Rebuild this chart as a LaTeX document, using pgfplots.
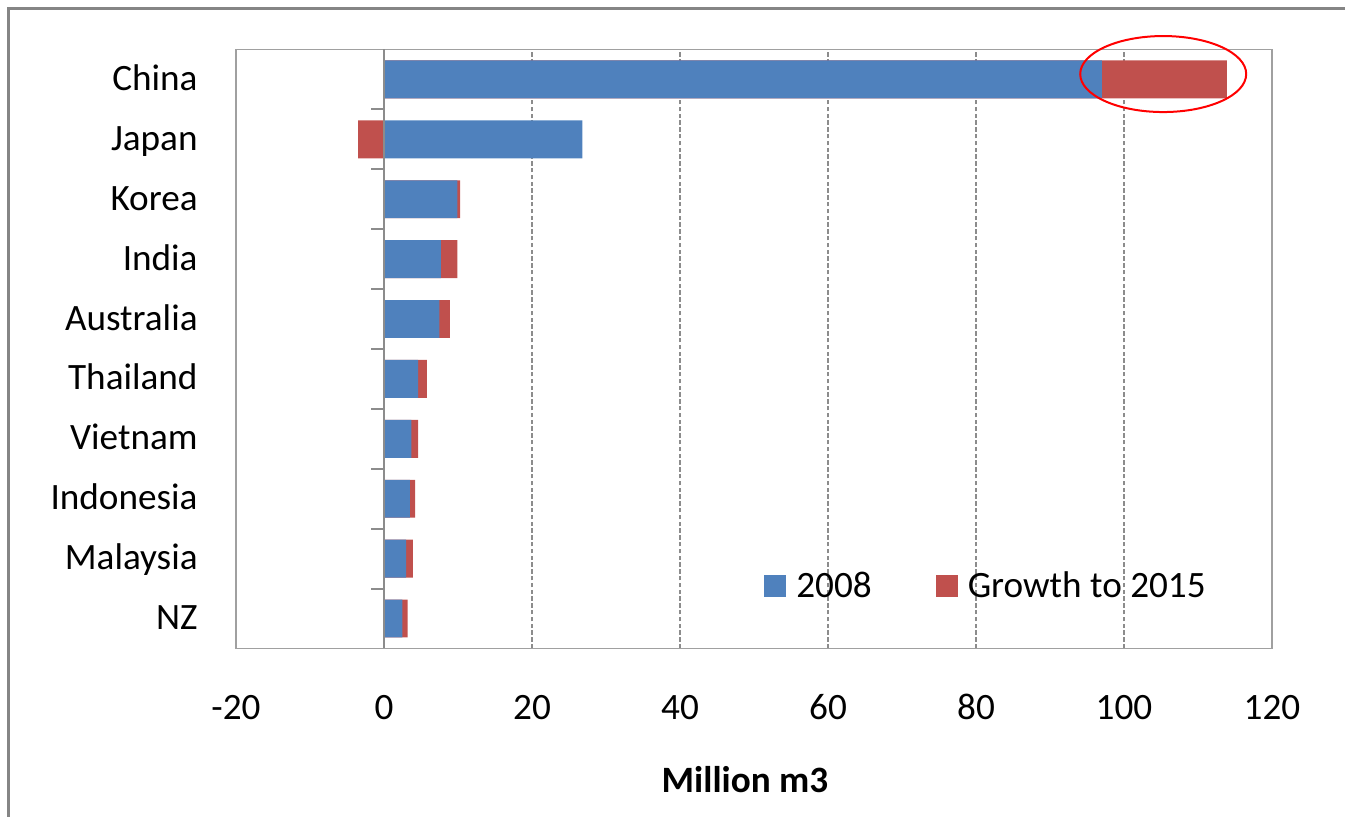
\documentclass[border=0pt]{standalone}
\usepackage{fontspec}
\setmainfont{Carlito}
\usepackage{pgfplots}
\usepackage{pgfplotstable}
\pgfplotsset{compat=1.18}

\definecolor{bluebar}{HTML}{4F81BD}
\definecolor{redbar}{HTML}{C0504D}
\definecolor{boxgray}{HTML}{A0A0A0}
\definecolor{axisgray}{HTML}{8C8C8C}
\definecolor{gridgray}{HTML}{8C8C8C}
\definecolor{framegray}{HTML}{858585}

\newcommand\chartfont{\fontsize{18.6pt}{22pt}\selectfont}

% consumption in 2008 and change to 2015, million m3 (bottom to top)
\pgfplotstableread{
country   base   growth
NZ        2.5    0.7
Malaysia  3.0    0.9
Indonesia 3.5    0.7
Vietnam   3.7    0.9
Thailand  4.6    1.2
Australia 7.5    1.4
India     7.7    2.2
Korea     9.9    0.4
Japan     26.8   -3.5
China     97.0   16.9
}\demand

\begin{document}
\begin{tikzpicture}
% page extent
\useasboundingbox (-118pt,-84.25pt) rectangle (554.5pt,324.25pt);
% outer chart frame
\draw[framegray, line width=1.5pt] (-113.5pt,-84.25pt) -- (-113.5pt,319.75pt) -- (554.5pt,319.75pt);

\begin{axis}[
  at={(0pt,0pt)}, anchor=south west,
  scale only axis,
  width=518pt, height=299.5pt,
  xmin=-20, xmax=120,
  ymin=-0.5, ymax=9.5,
  clip=false,
  axis line style={boxgray, line width=0.8pt},
  xtick={-20,0,20,40,60,80,100,120},
  xticklabels={-20,0,20,40,60,80,100,120},
  ytick={0,...,9},
  yticklabels={NZ,Malaysia,Indonesia,Vietnam,Thailand,Australia,India,Korea,Japan,China},
  major tick length=0pt,
  tick label style={font=\chartfont, text=black},
  xticklabel style={anchor=base, inner sep=0pt, yshift=-35.75pt},
  yticklabel style={anchor=base east, inner sep=0pt, xshift=-19pt, yshift=-5.5pt},
  xmajorgrids,
  grid style={gridgray, line width=0.8pt, dash pattern=on 2.2pt off 1.2pt},
  xlabel={Million m3},
  xlabel style={font=\chartfont\bfseries, at={(axis description cs:0.4913,-0.2396)}, anchor=base},
  legend columns=2,
  legend cell align=left,
  legend style={at={(axis description cs:0.5096,0.104)}, anchor=west,
    draw=none, fill=none, inner sep=0pt, font=\chartfont,
    nodes={inner xsep=5pt, inner ysep=0pt},
    /tikz/every even column/.append style={column sep=27pt}},
  legend image code/.code={\fill[#1] (0pt,-5.5pt) rectangle (11pt,5.5pt);},
]
% growth segment: drawn from 0 when negative, else on top of the 2008 value
\addplot[xbar, bar width=0.633, bar shift=0pt, fill=redbar, draw=none, forget plot]
  table[x expr={\thisrow{growth} < 0 ? \thisrow{growth} : \thisrow{base}+\thisrow{growth}}, y expr=\coordindex] {\demand};
% 2008 level
\addplot[xbar, bar width=0.633, bar shift=0pt, fill=bluebar, draw=none]
  table[x=base, y expr=\coordindex] {\demand};
\addlegendentry{2008}
\addlegendimage{fill=redbar, draw=none}
\addlegendentry{Growth to 2015}

% vertical axis at zero with category separators
\draw[axisgray, line width=1pt] (axis cs:0,-0.5) -- (axis cs:0,9.5);
\pgfplotsinvokeforeach{0.5,1.5,...,8.5}{
  \draw[axisgray, line width=1pt] (axis cs:-1.75,#1) -- (axis cs:0,#1);
}

% highlight on China's growth
\draw[red, line width=1pt] (axis cs:105.3,9.09) ellipse [x radius=41.5pt, y radius=19pt];
\end{axis}
\end{tikzpicture}
\end{document}
